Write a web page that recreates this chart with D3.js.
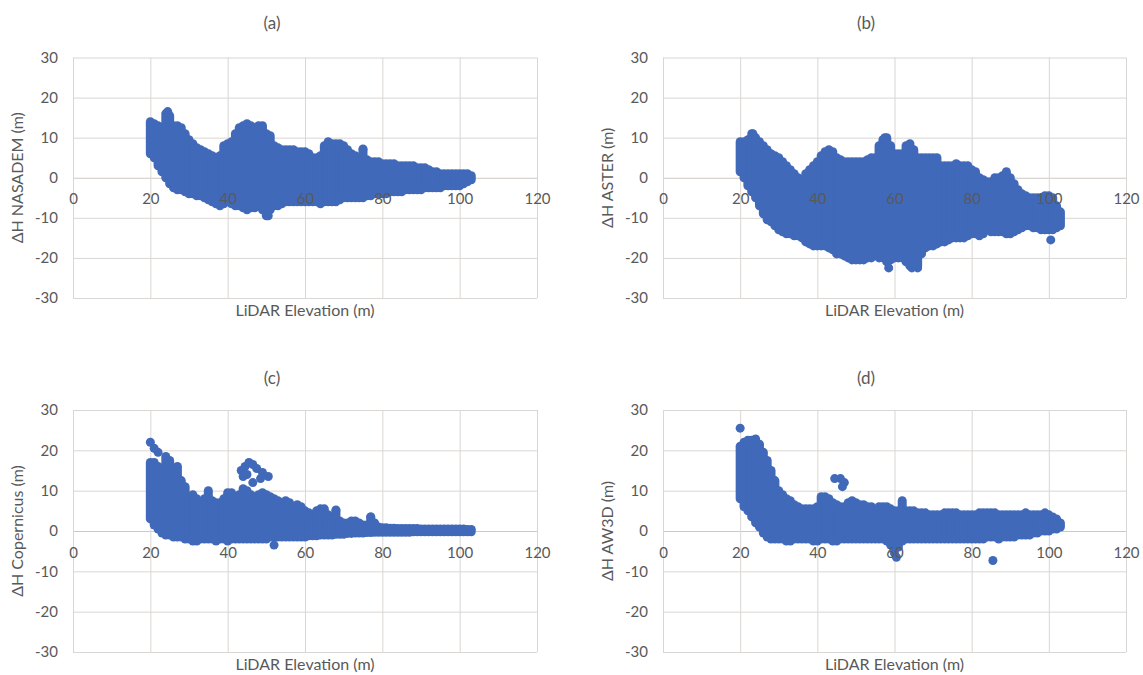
<!DOCTYPE html>
<html><head><meta charset="utf-8">
<script src="https://cdn.jsdelivr.net/npm/d3@7"></script>
<style>body{margin:0;background:#fff}svg{display:block}</style>
</head><body>
<svg id="chart" width="1143" height="675"></svg>
<script>
// LiDAR elevation columns (m)
const xCols=[20,21,22,23,24,25,26,27,28,29,30,31,32,33,34,35,36,37,38,39,40,41,42,43,44,45,46,47,48,49,50,51,52,53,54,55,56,57,58,59,60,61,62,63,64,65,66,67,68,69,70,71,72,73,74,75,76,77,78,79,80,81,82,83,84,85,86,87,88,89,90,91,92,93,94,95,96,97,98,99,100,101,102,103];
// (a) NASADEM upper / lower extent of the point cloud
const aHi=[14,13.5,13,12.5,16,15.5,13,13,12.5,11, 9.5,8.5,7.5,7,6.5,6,5.5,5,5.5,8, 8.5,9,11,12.5,13,13.5,13,12.5,13,13, 11,10.5,8,7.5,7,7,7,7,6.5,6.5, 6.5,6,5,5,5.5,8,9,8.5,8.5,8.5, 8,7,6,5.5,5,7,4.5,4,4,4, 3.5,3.5,3.5,3.5,3,3,3,3,3,2.5, 2.5,2.5,2,1.5,1.5,1,1,1,1,1, 1,1,1,0.5];
const aLo=[6,5,3,1.5,0,-1.5,-2.5,-3,-3,-3.5, -4,-4,-4.5,-4.5,-5,-5.5,-6,-6.5,-7,-6.5, -6,-6.5,-7,-7,-7.5,-8,-7.5,-7.5,-7,-8, -9.5,-8,-7,-7,-6.5,-6,-6,-6,-6,-6, -6,-6,-6,-6,-6.5,-6,-6,-6,-6,-5.5, -5,-5,-5,-5,-5,-5,-4.5,-4.5,-4,-4, -4,-4,-3.5,-3.5,-3.5,-3.5,-3,-3,-3,-3, -3,-2.5,-2.5,-2.5,-2.5,-2.5,-2,-2,-2,-2, -2,-1.5,-1,-0.5];
const aOut=[[24.5,16.5],[75,7.2],[50.5,-9.5]];
// (b) ASTER
const bHi=[9,9,9.5,11,10,9,8,7,6,5.5, 5,4,3,2,1,0,-0.5,1,2,3, 4,5.5,6.5,7,6.5,5,4.5,4,4,4, 4,4,4,4.5,5,5,8,9.5,10,8, 6,6,6,8,8.5,7,5,5,5,5, 5,5,3,3,3,3,3.5,3,3,3, 2,1.5,0,-0.5,-1,-1,0,0,0.5,1.5, 0,-1.5,-3,-4,-4.5,-5,-5,-5,-5,-4.5, -4.5,-5,-7,-8.5];
const bLo=[1.5,0,-2,-3.5,-5,-7,-9,-10.5,-11,-12, -13,-13.5,-14,-14,-14.5,-14.5,-15,-16,-16.5,-17, -17,-17,-17,-17.5,-18,-19,-19,-19.5,-20,-20.5, -20.5,-20.5,-20.5,-20,-20,-19,-20,-20,-21,-20.5, -20,-20,-20,-21,-22,-22,-22,-19,-17.5,-17, -17,-16.5,-16,-16,-15.5,-15,-15,-15,-15,-14.5, -14,-14,-14.5,-14,-13,-13.5,-13.5,-13.5,-13.5,-14, -14,-13.5,-13,-12.5,-12,-12,-12.5,-12.5,-13,-13, -13,-13,-12.5,-12];
const bOut=[[58.5,-22.5],[64.5,-22.5],[66,-22.5],[100.5,-15.5],[23.3,11],[57.5,10]];
// (c) Copernicus
const cHi=[17,17,16,15.5,18.5,17.5,15.5,16,12.5,11, 8,9,8,7,8,10,7.5,7,7,8, 9.5,9.5,8.5,9,10.5,10,9,8.5,9,9.5, 9,8.5,8,7.5,7,7.5,7,6,6.5,6, 5,4.5,4,5,5.5,5.5,4,3,5,2.5, 2,2,2.5,2.5,2,1.5,1.5,3.5,2,1, 0.8,0.8,0.7,0.7,0.6,0.6,0.6,0.6,0.6,0.6, 0.5,0.5,0.5,0.5,0.5,0.5,0.5,0.5,0.5,0.5, 0.5,0.5,0.4,0.4];
const cLo=[3,1.5,0.5,-0.5,-1,-1,-1.5,-1.5,-1.5,-2, -2,-2.5,-2.5,-2,-2,-2,-2,-2.5,-2,-2, -2.5,-2,-2,-2,-2,-2,-2,-2,-2,-2, -2,-1.5,-1.5,-1.5,-1.5,-1.5,-1.5,-1.5,-1.5,-1.5, -1.5,-1.2,-1.2,-1.2,-1,-1,-1,-1,-0.8,-0.8, -0.8,-0.6,-0.6,-0.5,-0.5,-0.5,-0.4,-0.4,-0.3,-0.3, -0.3,-0.3,-0.3,-0.3,-0.3,-0.3,-0.3,-0.3,-0.2,-0.2, -0.2,-0.2,-0.2,-0.2,-0.2,-0.2,-0.2,-0.2,-0.2,-0.2, -0.2,-0.2,-0.2,-0.2];
const cOut=[[20,22],[21,20.5],[22,19.5],[43.5,15],[44.5,16],[45.5,17],[46.5,16.5],[47.5,15.5],[49,14.5],[50.5,13.5],[46.5,12],[45,14],[44,13.5],[48.5,13],[52,-3.5],[68,5.2],[77,3.5]];
// (d) AW3D
const dHi=[21,22,22.5,22.5,22.8,21.5,19.5,17.5,15,12.5, 10,9,8,7.5,6.5,6,5.5,5.5,5.5,5.5, 6,8.5,8.5,8,7,6.5,6,6,7,7.5, 7,6.5,6.5,6,6,5,6,6,6,5.5, 5,5,7.5,5,5,5,4.5,4.5,4.5,4, 4,4,4,4.5,4.5,4.5,4.5,4,4,4, 4,4,4.5,4.5,4.5,4.5,4.5,4,4,4, 4,4,4,4,4.5,4,4,4,4,4.5, 4,3.5,3,2];
const dLo=[8,6,5,3.5,2,1,-0.5,-1.5,-2,-2, -2,-2,-2.5,-2.5,-2,-2,-2,-2,-2,-2.5, -2.5,-2,-2,-2,-2.5,-2.5,-2,-2,-2,-2, -2,-2,-2,-2,-2,-2,-2,-2,-2.5,-3.5, -4.5,-4,-2.5,-2,-2,-2,-2,-2,-2,-2, -2,-2,-2,-2,-2,-2,-2,-2,-2,-2, -2,-2,-2,-2,-1.5,-1.5,-1.5,-2,-1.5,-1.5, -1.5,-1.5,-1,-1,-1,-1,-0.5,-0.5,0,0, 0,0.5,0.5,1];
const dOut=[[20,25.5],[44.5,13],[46,13],[47,12],[46.5,11],[60.5,-6.5],[60,-5.5],[85.5,-7.3]];

const xTicks=[0,20,40,60,80,100,120];
const yTicks=[-30,-20,-10,0,10,20,30];
const titles=["(a)","(b)","(c)","(d)"];
const yTitles=["ΔH NASADEM (m)","ΔH ASTER (m)","ΔH Copernicus (m)","ΔH AW3D (m)"];
const xTitle="LiDAR Elevation (m)";

const layout=[
  {left:73, right:537, top:57.5, bottom:298, tx:272, ty:25, ytx:19},
  {left:663,right:1126,top:57.5, bottom:298, tx:866, ty:25, ytx:609},
  {left:73, right:537, top:410, bottom:652, tx:272, ty:380, ytx:19},
  {left:663,right:1126,top:410, bottom:652, tx:866, ty:380, ytx:609}
];
const series=[[aHi,aLo,aOut],[bHi,bLo,bOut],[cHi,cLo,cOut],[dHi,dLo,dOut]];

const svg=d3.select("#chart");
const FONT="Lato, 'Open Sans', sans-serif";
const TXT="#595959", GRID="#dad6d3", BLUE="#4169b9";
const R=4.5;
const fmt=d=>String(d);

layout.forEach((L,i)=>{
  const [hi,lo,out]=series[i];
  const x=d3.scaleLinear().domain([0,120]).range([L.left,L.right]);
  const y=d3.scaleLinear().domain([-30,30]).range([L.bottom,L.top]);
  const g=svg.append("g");

  const ya=g.append("g").attr("transform",`translate(${L.left},0)`)
    .call(d3.axisLeft(y).tickValues(yTicks).tickSize(-(L.right-L.left)).tickPadding(15).tickFormat(fmt));
  ya.select(".domain").remove();
  ya.selectAll("line").attr("stroke",d=>d===0?"#cfc8c4":GRID).attr("stroke-width",1);
  ya.selectAll("text").attr("fill",TXT).style("font-family",FONT).style("font-size","15px");

  const vg=g.append("g").attr("transform",`translate(0,${L.bottom})`)
    .call(d3.axisBottom(x).tickValues(xTicks).tickSize(-(L.bottom-L.top)).tickFormat(""));
  vg.select(".domain").remove();
  vg.selectAll("line").attr("stroke",GRID).attr("stroke-width",1);

  g.append("g").selectAll("line").data(xCols).join("line")
    .attr("x1",d=>x(d)).attr("x2",d=>x(d))
    .attr("y1",(d,k)=>y(hi[k])).attr("y2",(d,k)=>y(lo[k]))
    .attr("stroke",BLUE).attr("stroke-width",2*R).attr("stroke-linecap","round");
  g.append("g").selectAll("circle").data(out).join("circle")
    .attr("cx",d=>x(d[0])).attr("cy",d=>y(d[1])).attr("r",R).attr("fill",BLUE);

  const xa=g.append("g").attr("transform",`translate(0,${y(0)})`)
    .call(d3.axisBottom(x).tickValues(xTicks).tickSize(0).tickPadding(16).tickFormat(fmt));
  xa.select(".domain").remove();
  xa.selectAll("text").attr("fill",TXT).style("font-family",FONT).style("font-size","15px");

  g.append("text").attr("x",L.tx).attr("y",L.ty).attr("text-anchor","middle").attr("dominant-baseline","middle")
    .attr("fill",TXT).style("font-family",FONT).style("font-size","17px").text(titles[i]);
  g.append("text").attr("transform",`translate(${L.ytx},${(L.top+L.bottom)/2}) rotate(-90)`)
    .attr("text-anchor","middle").attr("dominant-baseline","middle")
    .attr("fill",TXT).style("font-family",FONT).style("font-size","16px").text(yTitles[i]);
  g.append("text").attr("x",(L.left+L.right)/2).attr("y",L.bottom+14).attr("text-anchor","middle").attr("dominant-baseline","middle")
    .attr("fill",TXT).style("font-family",FONT).style("font-size","16px").text(xTitle);
});
</script>
</body></html>
